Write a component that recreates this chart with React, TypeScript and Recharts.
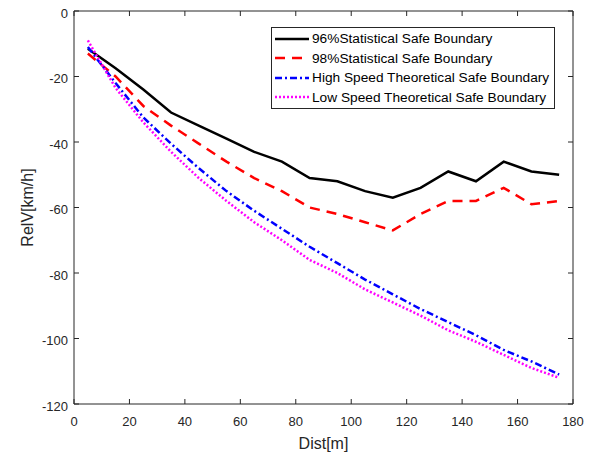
import { Legend, Line, LineChart, XAxis, YAxis } from "recharts";

const dist = [5, 15, 25, 35, 45, 55, 65, 75, 85, 95, 105, 115, 125, 135, 145, 155, 165, 175];
const stat96 = [-11.5, -17.5, -24, -31, -35, -39, -43, -46, -51, -52, -55, -57, -54, -49, -52, -46, -49, -50];
const stat98 = [-13, -20, -29, -35, -40.5, -46, -51, -55, -60, -62, -64.5, -67, -62, -58, -58, -54, -59, -58];
const highSpeed = [-11, -22, -32.5, -40.5, -48, -55, -61, -66.5, -72, -77, -82, -86.5, -91, -95, -99, -103.5, -107, -111];
const lowSpeed = [-9, -23.5, -34, -43, -51, -58, -64.5, -70, -76, -80, -85, -89, -93, -97.5, -101, -105, -109, -112];

const xTicks = [0, 20, 40, 60, 80, 100, 120, 140, 160, 180];
const yTicks = [-120, -100, -80, -60, -40, -20, 0];

// the black line sits on the top/right twin axes (same domains) so those axes are live too
const series = [
  { key: "stat96", name: "96%Statistical Safe Boundary", color: "#000000", dash: undefined, xId: "top", yId: "right" },
  { key: "stat98", name: "98%Statistical Safe Boundary", color: "#ff0000", dash: "10 7", xId: 0, yId: 0 },
  { key: "high", name: "High Speed Theoretical Safe Boundary", color: "#0000ff", dash: "7 3 2 3", xId: 0, yId: 0 },
  { key: "low", name: "Low Speed Theoretical Safe Boundary", color: "#ff00ff", dash: "2 2", xId: 0, yId: 0 },
];

const data = dist.map((d, i) => ({
  dist: d,
  stat96: stat96[i],
  stat98: stat98[i],
  high: highSpeed[i],
  low: lowSpeed[i],
}));

const axisColor = "#262626";
const font = "'Liberation Sans', Arial, sans-serif";
const TICK_LEN = 5;

// MATLAB style: tick marks point into the plot box
const BottomTick = ({ x, y, payload }: any) => (
  <g>
    <line x1={x} y1={y} x2={x} y2={y - TICK_LEN} stroke={axisColor} />
    <text x={x} y={y + 13} dy="0.71em" textAnchor="middle" fontSize={13} fill={axisColor} fontFamily={font}>
      {payload.value}
    </text>
  </g>
);

const LeftTick = ({ x, y, payload }: any) => (
  <g>
    <line x1={x} y1={y} x2={x + TICK_LEN} y2={y} stroke={axisColor} />
    <text x={x - 6} y={y + 2} dy="0.355em" textAnchor="end" fontSize={13} fill={axisColor} fontFamily={font}>
      {payload.value}
    </text>
  </g>
);

const TopTick = ({ x, y }: any) => <line x1={x} y1={y} x2={x} y2={y + TICK_LEN} stroke={axisColor} />;
const RightTick = ({ x, y }: any) => <line x1={x} y1={y} x2={x - TICK_LEN} y2={y} stroke={axisColor} />;

const renderLegend = () => (
  <div
    style={{
      border: `1px solid ${axisColor}`,
      background: "#fff",
      padding: "1px 5px 1px 2px",
      fontFamily: font,
      fontSize: 13.7,
      color: "#000",
      lineHeight: "19.5px",
    }}
  >
    {series.map((s) => (
      <div key={s.key} style={{ display: "flex", alignItems: "center", whiteSpace: "nowrap" }}>
        <svg width={36} height={10} style={{ marginRight: 2 }}>
          <line x1={1} y1={5} x2={35} y2={5} stroke={s.color} strokeWidth={2.5} strokeDasharray={s.dash} />
        </svg>
        {s.name}
      </div>
    ))}
  </div>
);

export default function App() {
  return (
    <div style={{ position: "absolute", left: 0, top: 0, width: 595, height: 455, background: "#fff" }}>
      <LineChart width={595} height={455} data={data} margin={{ top: 10, right: 21, left: 0, bottom: 0 }}>
        <XAxis
          dataKey="dist"
          type="number"
          domain={[0, 180]}
          ticks={xTicks}
          interval={0}
          height={51}
          tickSize={0}
          tickMargin={0}
          tickLine={false}
          stroke={axisColor}
          tick={BottomTick}
          label={{ value: "Dist[m]", position: "insideBottom", offset: 6, fill: axisColor, fontSize: 16, fontFamily: font }}
        />
        <XAxis
          xAxisId="top"
          orientation="top"
          type="number"
          dataKey="dist"
          domain={[0, 180]}
          ticks={xTicks}
          interval={0}
          height={1}
          tickSize={0}
          tickMargin={0}
          tickLine={false}
          tick={TopTick}
          stroke={axisColor}
        />
        <YAxis
          type="number"
          domain={[-120, 0]}
          ticks={yTicks}
          interval={0}
          width={74}
          tickSize={0}
          tickMargin={0}
          tickLine={false}
          stroke={axisColor}
          tick={LeftTick}
          label={{
            value: "RelV[km/h]",
            angle: -90,
            position: "insideLeft",
            offset: 27,
            fill: axisColor,
            fontSize: 16,
            fontFamily: font,
            style: { textAnchor: "middle" },
          }}
        />
        <YAxis
          yAxisId="right"
          orientation="right"
          type="number"
          domain={[-120, 0]}
          ticks={yTicks}
          interval={0}
          width={1}
          tickSize={0}
          tickMargin={0}
          tickLine={false}
          tick={RightTick}
          stroke={axisColor}
        />
        {series.map((s) => (
          <Line
            key={s.key}
            dataKey={s.key}
            name={s.name}
            xAxisId={s.xId}
            yAxisId={s.yId}
            type="linear"
            stroke={s.color}
            strokeWidth={2.5}
            strokeDasharray={s.dash}
            dot={false}
            activeDot={false}
            isAnimationActive={false}
          />
        ))}
        <Legend
          content={renderLegend}
          layout="vertical"
          align="center"
          verticalAlign="middle"
          wrapperStyle={{ position: "absolute", left: 271, top: 27, width: "auto", height: "auto" }}
        />
      </LineChart>
    </div>
  );
}
